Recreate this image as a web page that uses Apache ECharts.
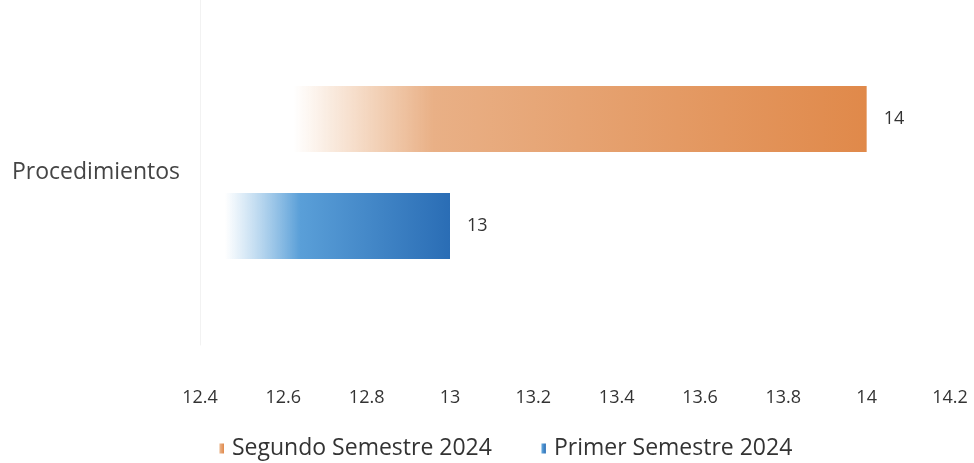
<!DOCTYPE html>
<html>
<head>
<meta charset="utf-8">
<script src="https://cdn.jsdelivr.net/npm/echarts@6/dist/echarts.min.js"></script>
<style>
  html, body { margin: 0; padding: 0; background: #fff; }
  #chart { width: 974px; height: 463px; }
</style>
</head>
<body>
<div id="chart"></div>
<script>
const categories = ['Procedimientos']
const seriesNames = ['Segundo Semestre 2024', 'Primer Semestre 2024']
const segundoValues = [14]
const primerValues = [13]

const FONT = '"Open Sans"'
const chart = echarts.init(document.getElementById('chart'))

// fade from white on the left into the bar colour
function fade(stops) {
  return new echarts.graphic.LinearGradient(0, 0, 1, 0, stops)
}

const blueFill = fade([
  { offset: 0, color: 'rgba(255,255,255,0)' },
  { offset: 0.1, color: 'rgba(120,180,225,0)' },
  { offset: 0.4, color: '#5a9fd8' },
  { offset: 1, color: '#2a6db5' },
])
const orangeFill = fade([
  { offset: 0, color: 'rgba(255,255,255,0)' },
  { offset: 0.14, color: 'rgba(235,180,135,0)' },
  { offset: 0.35, color: '#e9b086' },
  { offset: 1, color: '#e0894a' },
])

const labelStyle = {
  show: true,
  position: 'right',
  distance: 17,
  color: '#333',
  fontSize: 18,
  fontFamily: FONT,
}

chart.setOption({
  animation: false,
  grid: { left: 200, right: 24, top: 0, bottom: 118, containLabel: false },
  legend: {
    data: seriesNames,
    top: 432,
    left: 213,
    icon: 'rect',
    itemWidth: 6,
    itemHeight: 10,
    itemGap: 48,
    textStyle: { color: '#333', fontSize: 23, fontFamily: FONT, padding: [0, 0, 0, 3] },
  },
  xAxis: {
    type: 'value',
    min: 12.4,
    max: 14.2,
    interval: 0.2,
    axisLine: { show: false },
    axisTick: { show: false },
    splitLine: { show: false },
    axisLabel: {
      margin: 44,
      color: '#333',
      fontSize: 18,
      fontFamily: FONT,
      formatter: (v) => String(Math.round(v * 10) / 10),
    },
  },
  yAxis: {
    type: 'category',
    data: categories,
    axisLine: { show: true, lineStyle: { color: '#f2f2f2', width: 1 } },
    axisTick: { show: false },
    axisLabel: { margin: 20, color: '#444', fontSize: 23, fontFamily: FONT },
  },
  series: [
    {
      name: seriesNames[0],
      type: 'bar',
      data: segundoValues,
      barWidth: 66,
      barGap: '62%',
      itemStyle: { color: orangeFill },
      label: labelStyle,
    },
    {
      name: seriesNames[1],
      type: 'bar',
      data: primerValues,
      barWidth: 66,
      itemStyle: { color: blueFill },
      label: labelStyle,
    },
  ],
})
</script>
</body>
</html>
